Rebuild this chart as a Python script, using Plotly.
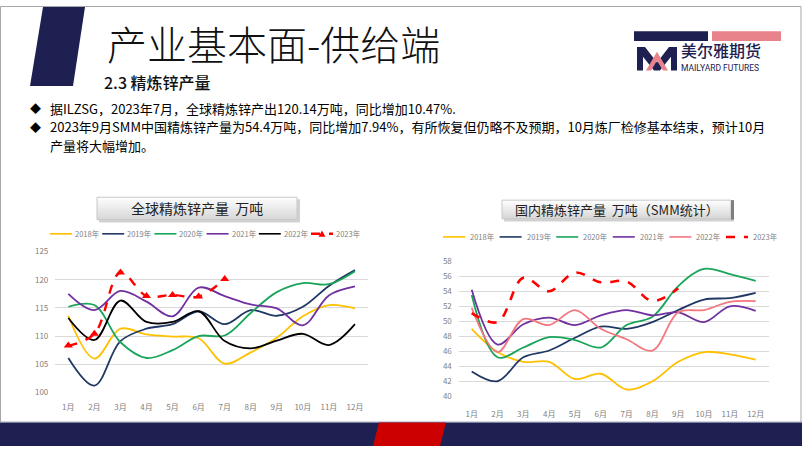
import plotly.graph_objects as go

W, H = 802, 451

# ---------------- data ----------------
months = ["1月", "2月", "3月", "4月", "5月", "6月", "7月", "8月", "9月", "10月", "11月", "12月"]
years = ["2018年", "2019年", "2020年", "2021年", "2022年", "2023年"]

global_2018 = [113.6, 106.0, 111.3, 110.3, 109.9, 109.6, 105.1, 107.1, 109.7, 113.5, 115.5, 114.9]
global_2019 = [106.1, 101.2, 109.1, 111.3, 112.1, 114.4, 112.1, 114.6, 113.6, 115.2, 118.9, 121.7]
global_2020 = [115.2, 115.5, 108.9, 106.1, 107.5, 110.0, 110.1, 114.1, 117.8, 119.4, 119.2, 121.5]
global_2021 = [117.5, 114.6, 118.0, 116.1, 113.5, 118.6, 117.1, 115.6, 114.9, 111.9, 117.2, 118.8]
global_2022 = [113.2, 109.3, 116.3, 112.5, 112.5, 114.4, 109.1, 107.8, 109.2, 110.4, 108.4, 112.1]
global_2023 = [108.3, 110.4, 121.3, 117.1, 117.3, 117.0, 120.14]

china_2018 = [49.0, 45.9, 44.6, 44.6, 42.3, 43.0, 40.9, 42.0, 44.6, 45.9, 45.6, 44.9]
china_2019 = [43.3, 42.0, 45.2, 46.1, 47.8, 49.3, 49.0, 49.9, 51.5, 52.9, 53.1, 53.8]
china_2020 = [53.5, 45.2, 46.5, 47.9, 47.5, 46.5, 49.5, 50.6, 54.7, 57.0, 56.3, 55.4]
china_2021 = [54.2, 46.9, 49.6, 50.5, 49.5, 50.8, 51.5, 50.8, 51.2, 49.9, 52.0, 51.4]
china_2022 = [51.8, 45.9, 50.3, 49.5, 51.5, 49.0, 47.6, 46.1, 51.2, 51.5, 52.6, 52.7]
china_2023 = [51.1, 49.9, 55.8, 54.0, 56.5, 55.2, 55.3, 52.7, 54.4]

global_series = [global_2018, global_2019, global_2020, global_2021, global_2022, global_2023]
china_series = [china_2018, china_2019, china_2020, china_2021, china_2022, china_2023]

global_colors = ["#ffc000", "#1f3864", "#1aa55a", "#7030a0", "#000000", "#ff0000"]
china_colors = ["#ffc000", "#1f3864", "#1aa55a", "#7030a0", "#f4777f", "#ff0000"]

left_ticks = [100, 105, 110, 115, 120, 125]
right_ticks = [40, 42, 44, 46, 48, 50, 52, 54, 56, 58]

title_text = "产业基本面-供给端"
subtitle_text = "2.3 精炼锌产量"
bullet_lines = [
    "据ILZSG，2023年7月，全球精炼锌产出120.14万吨，同比增加10.47%.",
    "2023年9月SMM中国精炼锌产量为54.4万吨，同比增加7.94%，有所恢复但仍略不及预期，10月炼厂检修基本结束，预计10月",
    "产量将大幅增加。",
]
left_title = "全球精炼锌产量  万吨"
right_title = "国内精炼锌产量  万吨（SMM统计）"

FONT = "Noto Sans CJK SC"
NAVY = "#1d2050"
GRAY_TXT = "#7f7f7f"


def px(x):
    return x / W


def py(y):
    return 1 - y / H


fig = go.Figure()

# ---------------- traces ----------------
for i, (name, vals) in enumerate(zip(years, global_series)):
    is23 = i == 5
    fig.add_trace(go.Scatter(
        x=months[:len(vals)], y=vals, name=name, mode="lines+markers" if is23 else "lines",
        line=dict(color=global_colors[i], width=2.4 if is23 else 1.8, shape="spline",
                  dash="dash" if is23 else "solid"),
        marker=dict(symbol="triangle-up", size=8, color=global_colors[i]),
        xaxis="x", yaxis="y", showlegend=False))

for i, (name, vals) in enumerate(zip(years, china_series)):
    is23 = i == 5
    fig.add_trace(go.Scatter(
        x=months[:len(vals)], y=vals, name=name, mode="lines",
        line=dict(color=china_colors[i], width=2.6 if is23 else 1.8, shape="spline",
                  dash="dash" if is23 else "solid"),
        xaxis="x2", yaxis="y2", showlegend=False))

axis_font = dict(family=FONT, size=8, color=GRAY_TXT)
grid = "#d9d9d9"

fig.update_layout(
    width=W, height=H, margin=dict(l=0, r=0, t=0, b=0),
    paper_bgcolor="white", plot_bgcolor="rgba(0,0,0,0)",
    xaxis=dict(domain=[px(55.3), px(368)], type="category", range=[-0.5, 11.5],
               showgrid=False, zeroline=False, showline=False, ticks="",
               tickfont=axis_font, ticklabelstandoff=9, anchor="y"),
    yaxis=dict(domain=[py(396), py(251.7)], range=[100, 125], tickvals=left_ticks,
               showgrid=True, gridcolor=grid, gridwidth=1, zeroline=False, showline=False,
               ticks="", tickfont=axis_font, ticklabelstandoff=6, anchor="x"),
    xaxis2=dict(domain=[px(458.8), px(768.6)], type="category", range=[-0.5, 11.5],
                showgrid=False, zeroline=False, showline=False, ticks="",
                tickfont=axis_font, ticklabelstandoff=12, anchor="y2"),
    yaxis2=dict(domain=[py(400), py(261.7)], range=[40, 58], tickvals=right_ticks,
                showgrid=True, gridcolor=grid, gridwidth=1, zeroline=False, showline=False,
                ticks="", tickfont=axis_font, ticklabelstandoff=6, anchor="x2"),
)

shapes = []
annos = []


def rect(x0, y0, x1, y1, fill, line=None, lw=0, layer="above"):
    shapes.append(dict(type="rect", xref="paper", yref="paper", x0=px(x0), x1=px(x1),
                       y0=py(y1), y1=py(y0), fillcolor=fill, layer=layer,
                       line=dict(color=line or fill, width=lw)))


def poly(points, fill):
    d = "M " + " L ".join(f"{px(a):.5f},{py(b):.5f}" for a, b in points) + " Z"
    shapes.append(dict(type="path", xref="paper", yref="paper", path=d, fillcolor=fill,
                       line=dict(width=0)))


def text(x, y, s, size, color="black", anchor="left", weight=None, family=FONT, yanchor="middle"):
    f = dict(family=family, size=size, color=color)
    if weight:
        f["weight"] = weight
    annos.append(dict(xref="paper", yref="paper", x=px(x), y=py(y), text=s, showarrow=False,
                      xanchor=anchor, yanchor=yanchor, align="left", font=f, borderpad=0))


# slide border
shapes.append(dict(type="rect", xref="paper", yref="paper", x0=px(0.5), x1=px(801), y0=py(427),
                   y1=py(0.5), line=dict(color="#a6a6a6", width=1), fillcolor="rgba(0,0,0,0)"))

# top-left parallelogram
poly([(43, 1), (85, 1), (73, 82), (30, 82)], NAVY)

# title + subtitle
text(106, 38, title_text, 40, "#111111", weight=300)
text(103, 78, subtitle_text, 16, "#111111", weight=500)

# logo
rect(634, 26, 708, 36, NAVY)
rect(712, 26, 781, 36, "#e8838b")
poly([(637, 66), (637, 42), (645, 42), (657, 58), (669, 42), (677, 42), (677, 66), (671, 66),
      (671, 52), (660, 66), (654, 66), (643, 52), (643, 66)], NAVY)
poly([(646, 66), (657, 47), (668, 66), (663, 66), (657, 56), (651, 66)], "#e8838b")
text(680, 45.5, "美尔雅期货", 16, NAVY, weight=500)
text(680, 63.5, "MAILYARD FUTURES", 8.5, NAVY, family="Roboto")

# bullets
bullet_y = [105, 124, 143]
for k in range(2):
    text(29, bullet_y[k], "◆", 11, "black")
for line, yy in zip(bullet_lines, bullet_y):
    text(49, yy, line, 13, "black")


# chart title boxes (gradient approximated with stripes)
def title_box(x0, y0, x1, y1, s, size):
    rect(x0 + 2, y0 + 2, x1 + 3, y1 + 3, "rgba(0,0,0,0.18)")
    n = 8
    h = (y1 - y0) / n
    for k in range(n):
        c = int(252 - k * 5)
        rect(x0, y0 + k * h, x1, y0 + (k + 1) * h + 0.5, f"rgb({c},{c},{c})")
    shapes.append(dict(type="rect", xref="paper", yref="paper", x0=px(x0), x1=px(x1),
                       y0=py(y1), y1=py(y0), line=dict(color="#c8c8c8", width=1),
                       fillcolor="rgba(0,0,0,0)"))
    text((x0 + x1) / 2, (y0 + y1) / 2, s, size, "#222222", anchor="center")


title_box(97, 196, 297, 219, left_title, 14)
title_box(502, 199, 731, 218, right_title, 13)
rect(731, 199, 734, 219, "#7f7f7f")


# legends
def legend(x_start, pitch, y, colors, gap, marker_first=None):
    for i, (name, c) in enumerate(zip(years, colors)):
        xs = x_start + i * pitch
        is23 = i == 5
        shapes.append(dict(type="line", xref="paper", yref="paper", x0=px(xs), x1=px(xs + 22),
                           y0=py(y), y1=py(y),
                           line=dict(color=c, width=2.4 if is23 else 1.6,
                                     dash="dash" if is23 else "solid")))
        if is23 and marker_first:
            cx = xs + 11
            poly([(cx - 3.5, y + 3), (cx + 3.5, y + 3), (cx, y - 3.5)], c)
        text(xs + gap, y, name, 7.5, GRAY_TXT)


legend(50, 52.2, 233.5, global_colors, 24, marker_first=True)
legend(443, 56.6, 236.7, china_colors, 26)

# bottom band
rect(0, 427, 802, 451, NAVY)
shapes.append(dict(type="line", xref="paper", yref="paper", x0=0, x1=1, y0=py(426.5),
                   y1=py(426.5), line=dict(color="#8f95b5", width=1)))
poly([(379, 427), (446, 427), (440, 451), (373, 451)], "#cc0000")

fig.update_layout(shapes=shapes, annotations=annos)

fig.write_html("out.html", config={"displayModeBar": False},
               post_script="document.body.style.margin='0';document.body.style.overflow='hidden';")
